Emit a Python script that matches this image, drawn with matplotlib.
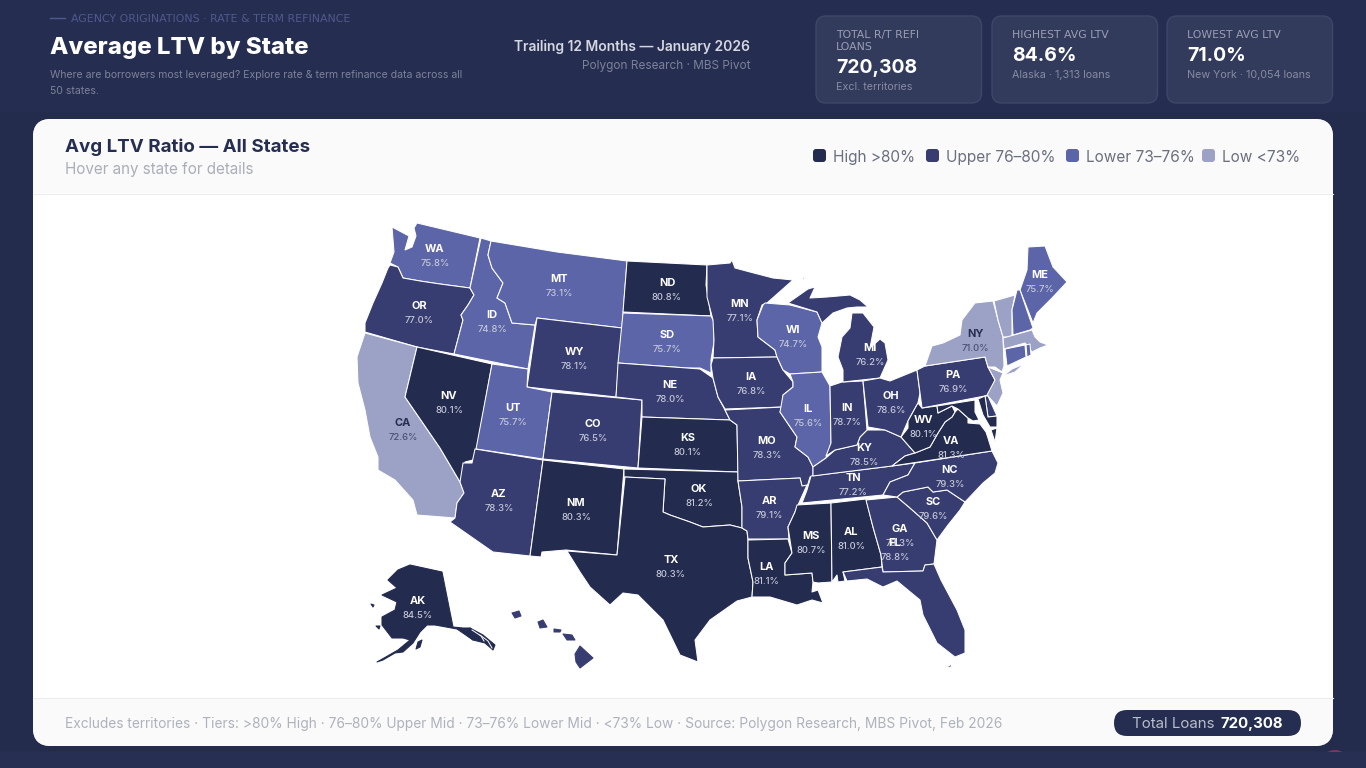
import matplotlib
matplotlib.use('Agg')
import matplotlib.pyplot as plt
from matplotlib.patches import FancyBboxPatch, Polygon, Rectangle, Circle

plt.rcParams['font.family'] = ['Inter', 'DejaVu Sans']

# values, states without a label are estimates from their tier
STATE_CODES = ['WA', 'OR', 'CA', 'NV', 'ID', 'MT', 'WY', 'UT', 'AZ', 'CO', 'NM', 'ND', 'SD', 'NE', 'KS', 'OK', 'TX',
               'MN', 'IA', 'MO', 'AR', 'LA', 'WI', 'IL', 'MS', 'AL', 'TN', 'KY', 'IN', 'MI', 'OH', 'GA', 'FL', 'SC',
               'NC', 'VA', 'WV', 'PA', 'NY', 'ME', 'AK', 'HI', 'VT', 'NH', 'MA', 'CT', 'RI', 'NJ', 'DE', 'MD']
LTV_VALUES = [75.8, 77.0, 72.6, 80.1, 74.8, 73.1, 78.1, 75.7, 78.3, 76.5, 80.3, 80.8, 75.7, 78.0, 80.1, 81.2, 80.3,
              77.1, 76.8, 78.3, 79.1, 81.1, 74.7, 75.6, 80.7, 81.0, 77.2, 78.5, 78.7, 76.2, 78.6, 78.3, 78.8, 79.6,
              79.3, 81.3, 80.1, 76.9, 71.0, 75.7, 84.5, 77.5, 72.0, 75.0, 72.5, 75.2, 74.9, 72.8, 78.0, 80.5]

TIER_LABELS = ['High >80%', 'Upper 76–80%', 'Lower 73–76%', 'Low <73%']
TIER_COLORS = ['#232b4e', '#373d70', '#5c65a8', '#9ca1c6']

STAT_LABELS = [['TOTAL R/T REFI', 'LOANS'], ['HIGHEST AVG LTV'], ['LOWEST AVG LTV']]
STAT_VALUES = ['720,308', '84.6%', '71.0%']
STAT_NOTES = ['Excl. territories', 'Alaska · 1,313 loans', 'New York · 10,054 loans']

# state outlines in map coordinates
STATE_SHAPES = {
  'WA': [[(417,223),(480,238),(470,288),(440,284),(420,281),(403,278),(398,267),(390,263),(394,252),(392,227),(409,236),(405,250),(412,247),(416,236),(414,228)]],
  'OR': [[(390,265),(398,267),(403,278),(420,281),(440,284),(470,288),(474,295),(468,305),(461,315),(463,320),(454,354),(417,347),(365,332),(365,323),(373,303),(382,283),(388,268)]],
  'CA': [[(365,333),(417,347),(405,397),(440,448),(460,482),(464,493),(457,503),(455,518),(417,515),(413,500),(395,480),(378,470),(378,457),(370,437),(365,410),(358,383),(357,357)]],
  'NV': [[(417,347),(492,364),(477,448),(473,460),(465,462),(462,477),(460,482),(440,448),(405,397)]],
  'ID': [[(481,238),(491,241),(488,255),(492,268),(503,283),(497,298),(505,303),(512,323),(535,325),(528,369),(454,354),(463,320),(461,315),(468,305),(474,295),(470,288)]],
  'MT': [[(491,241),(557,252),(627,261),(622,328),(537,318),(535,325),(512,323),(505,303),(497,298),(503,283),(492,268),(488,255)]],
  'WY': [[(537,318),(622,328),(616,397),(527,387)]],
  'UT': [[(492,364),(528,369),(527,387),(552,392),(543,459),(476,449)]],
  'AZ': [[(475,449),(543,460),(530,556),(493,552),(450,522),(455,518),(457,503),(464,493),(460,482),(463,463),(472,463)]],
  'CO': [[(552,392),(642,400),(638,468),(543,459)]],
  'NM': [[(543,460),(624,469),(617,555),(566,550),(542,552),(541,557),(530,556)]],
  'ND': [[(627,261),(707,265),(706,285),(711,316),(623,312)]],
  'SD': [[(623,313),(711,316),(714,322),(714,342),(711,360),(711,373),(700,368),(687,368),(618,363)]],
  'NE': [[(618,363),(687,368),(700,369),(713,378),(718,397),(725,410),(730,420),(642,417),(642,400),(616,397)]],
  'KS': [[(642,417),(730,420),(737,425),(738,472),(638,468)]],
  'OK': [[(624,469),(738,472),(738,481),(742,507),(742,528),(730,525),(703,527),(690,522),(670,515),(663,512),(665,479),(624,477)]],
  'TX': [[(625,477),(665,479),(663,512),(670,515),(690,522),(703,527),(730,525),(742,528),(747,531),(748,540),(748,558),(753,582),(752,597),(737,601),(710,620),(695,640),(698,662),(680,655),(663,620),(638,595),(623,593),(610,605),(590,587),(580,572),(567,551),(617,555)]],
  'MN': [[(707,265),(730,263),(732,260),(735,268),(750,272),(773,278),(793,280),(767,303),(762,305),(757,320),(758,337),(775,350),(777,357),(713,358),(714,340),(713,320),(707,297)]],
  'IA': [[(713,358),(777,357),(783,370),(793,382),(793,387),(783,395),(783,407),(725,409),(718,397),(713,378),(711,365)]],
  'MO': [[(725,410),(783,407),(780,412),(797,437),(795,447),(808,457),(813,467),(813,476),(810,477),(807,487),(802,486),(800,478),(738,481),(737,425),(730,420)]],
  'AR': [[(738,481),(800,478),(802,486),(807,485),(798,505),(795,512),(788,527),(789,539),(748,539),(747,531),(742,528),(742,507)]],
  'LA': [[(748,540),(788,539),(792,553),(785,563),(785,575),(812,573),(813,582),(812,592),(818,590),(823,603),(812,600),(797,605),(770,597),(752,597),(753,582),(748,558)]],
  'WI': [[(763,305),(765,303),(790,305),(817,312),(822,323),(818,337),(822,347),(822,372),(790,374),(783,370),(777,357),(775,350),(758,337),(757,320)]],
  'IL': [[(790,374),(822,372),(830,386),(831,443),(826,458),(813,467),(808,457),(795,447),(797,437),(780,412),(783,395),(793,387),(793,382)]],
  'MS': [[(797,505),(831,503),(832,582),(818,583),(813,582),(812,573),(785,575),(785,563),(792,553),(788,527),(795,512)]],
  'AL': [[(831,503),(866,499),(873,527),(881,555),(882,567),(843,572),(845,581),(838,582),(837,575),(832,582)]],
  'TN': [[(811,476),(892,466),(915,463),(908,475),(890,482),(883,495),(802,503),(807,490)]],
  'KY': [[(867,430),(885,430),(901,437),(915,453),(905,456),(892,466),(828,474),(813,476),(813,467),(826,458),(835,450),(857,445),(860,437)]],
  'IN': [[(830,386),(842,382),(863,381),(867,430),(860,437),(857,445),(835,450),(826,456),(831,443)]],
  'MI': [[(788,303),(808,289),(815,287),(810,298),(827,297),(850,295),(860,300),(868,307),(857,307),(847,308),(833,313),(822,323),(817,312)],
         [(843,382),(880,378),(888,360),(885,343),(880,339),(870,348),(874,327),(863,313),(852,313),(850,328),(842,337),(838,357),(843,370)],
         [(800,280),(806,276),(804,279)]],
  'OH': [[(863,381),(880,378),(890,381),(917,370),(920,393),(918,403),(908,421),(901,437),(885,430),(868,427)]],
  'GA': [[(866,500),(897,497),(910,508),(927,523),(937,540),(934,564),(925,565),(923,571),(883,572),(881,555),(873,527)]],
  'FL': [[(843,572),(882,567),(883,572),(923,571),(925,565),(934,564),(941,580),(957,610),(965,630),(965,653),(955,657),(937,643),(923,615),(920,600),(897,581),(883,587),(867,579),(847,581)],
         [(945,668),(952,664),(951,667)]],
  'SC': [[(897,497),(903,492),(928,487),(933,492),(947,490),(965,502),(960,510),(948,525),(937,540),(927,523),(910,508)]],
  'NC': [[(915,463),(992,451),(998,463),(995,473),(983,483),(965,502),(947,490),(933,492),(928,487),(903,492),(897,497),(883,495),(890,482),(908,475)]],
  'VA': [[(955,412),(958,409),(968,418),(968,423),(980,424),(986,432),(988,438),(992,451),(892,466),(905,456),(915,453),(930,447),(938,433),(945,422),(952,417)],
         [(991,430),(997,428),(995,442)]],
  'WV': [[(918,403),(922,408),(937,406),(938,413),(952,406),(955,412),(952,417),(945,422),(938,433),(930,447),(915,453),(901,437),(908,428),(908,421)]],
  'PA': [[(917,370),(925,366),(985,357),(988,367),(995,380),(990,395),(922,408)]],
  'NY': [[(925,366),(932,346),(943,343),(960,335),(962,320),(975,303),(993,301),(998,320),(1003,337),(1004,366),(1002,372),(995,367),(988,367),(985,357)],
         [(1003,376),(1012,369),(1024,364),(1015,372)]],
  'ME': [[(1028,247),(1045,246),(1053,267),(1067,282),(1052,298),(1037,313),(1033,323),(1020,290),(1027,270)]],
  'VT': [[(994,301),(1015,295),(1012,310),(1012,337),(1003,337),(998,320)]],
  'NH': [[(1017,290),(1020,290),(1033,328),(1030,330),(1013,335),(1012,310)]],
  'MA': [[(1003,338),(1032,330),(1035,337),(1040,342),(1048,345),(1040,348),(1032,352),(1025,343),(1004,349)]],
  'CT': [[(1005,349),(1025,345),(1026,357),(1007,366)]],
  'RI': [[(1026,345),(1030,344),(1031,355),(1027,357)]],
  'NJ': [[(988,367),(1003,373),(1000,380),(1003,393),(997,406),(987,395),(995,380)]],
  'DE': [[(985,396),(988,396),(997,416),(988,417)]],
  'MD': [[(937,406),(975,400),(975,412),(979,420),(973,421),(968,418),(958,409),(952,406),(938,413)],
         [(978,399),(985,396),(988,417),(997,416),(997,427),(990,427),(983,415)]],
  'AK': [[(410,565),(442,572),(453,627),(463,628),(470,628),(480,636),(473,640),(457,629),(435,625),(427,625),(420,632),(413,643),(403,652),(395,653),(383,660),(377,662),(398,650),(410,640),(403,638),(392,638),(382,625),(382,617),(395,610),(397,602),(382,595),(397,588),(388,580),(398,570)],
         [(418,642),(422,640),(420,647),(416,649)],
         [(376,626),(380,626),(379,629)],
         [(371,604),(374,605),(373,607)]],
}

# the Alaska panhandle and Hawaii keep their own thin islands
ISLAND_SHAPES = {
  'AK': [[(470,628),(483,635),(495,645),(493,650),(485,643),(473,640),(463,632)]],
  'HI': [[(512,613),(519,611),(521,616),(515,618)],[(538,622),(543,620),(547,627),(540,628)],[(554,629),(561,630),(560,632),(554,632)],[(563,634),(572,635),(575,640),(567,640)],[(575,654),(580,646),(593,658),(580,668),(576,662)]],
}
PANHANDLE_SLITS = [[(472,630),(481,636),(484,641)], [(480,635),(488,641),(492,648)]]

# where each state label sits, unlabeled states are left out
LABEL_POS = {
  'WA': (435,249), 'OR': (419,306), 'CA': (403,423), 'NV': (449,396), 'ID': (492,315), 'MT': (559,279), 'WY': (574,352),
  'UT': (513,408), 'CO': (593,424), 'ND': (667,283), 'SD': (667,335), 'NE': (670,385), 'KS': (688,438), 'OK': (699,489),
  'TX': (671,560), 'NM': (576,503), 'AZ': (499,494), 'MN': (740,304), 'IA': (751,377), 'MO': (767,441), 'AR': (769,501),
  'LA': (766,567), 'MS': (811,536), 'AL': (851,532), 'TN': (853,478), 'KY': (864,448), 'IL': (808,409), 'IN': (847,408),
  'WI': (793,330), 'MI': (870,348), 'OH': (891,396), 'PA': (953,375), 'NY': (975,334), 'ME': (1040,275), 'VA': (951,441),
  'WV': (924,420), 'NC': (950,470), 'SC': (933,502), 'GA': (900,529), 'FL': (895,543), 'AK': (418,601),
}

NAVY = '#252e50'
WIDE_FONT = ['DejaVu Sans']

def tierColor(value):
  if value > 80:
    return TIER_COLORS[0]
  if value >= 76:
    return TIER_COLORS[1]
  if value >= 73:
    return TIER_COLORS[2]
  return TIER_COLORS[3]

def roundBox(ax, x0, y0, x1, y1, r, fc, ec='none', lw=0, z=1):
  box = FancyBboxPatch((x0, y0), x1 - x0, y1 - y0, boxstyle='round,pad=0,rounding_size=%s' % r,
                       fc=fc, ec=ec, lw=lw, zorder=z)
  ax.add_patch(box)
  return box

def px(size):
  return size * 0.72

def label(ax, x, y, s, size, color, weight='normal', ha='left', family=None):
  t = ax.text(x, y, s, fontsize=px(size), color=color, fontweight=weight, ha=ha, va='center_baseline', zorder=6)
  if family:
    t.set_fontfamily(family)

def drawHeader(ax):
  ax.plot([50, 65], [18, 18], color='#50598f', lw=1.0, zorder=3)
  label(ax, 71, 18, 'AGENCY ORIGINATIONS · RATE & TERM REFINANCE', 11, '#50598f', family=WIDE_FONT)
  label(ax, 50, 45.5, 'Average LTV by State', 24, '#ffffff', 800)
  label(ax, 50, 74, 'Where are borrowers most leveraged? Explore rate & term refinance data across all', 10.5, '#7c8299')
  label(ax, 50, 90, '50 states.', 10.5, '#7c8299')
  label(ax, 750, 45.5, 'Trailing 12 Months — January 2026', 13.85, '#d5d8e2', 'semibold', 'right')
  label(ax, 750, 64.5, 'Polygon Research · MBS Pivot', 11.8, '#7c8299', ha='right')

  cardX = [816, 992, 1167]
  for i in range(3):
    x = cardX[i]
    roundBox(ax, x, 16, x + 165.5, 103, 10, '#333b5c', '#3f4768', 1)
    y = 34
    for line in STAT_LABELS[i]:
      label(ax, x + 20, y, line, 10.9, '#9a9fb3', family=WIDE_FONT)
      y += 12
    label(ax, x + 20, y + 8, STAT_VALUES[i], 19.4, '#ffffff', 'bold')
    label(ax, x + 20, y + 27.5, STAT_NOTES[i], 10.75, '#868ca3')

def drawCard(ax):
  ax.add_patch(Rectangle((0, 0), 1366, 751, fc='#242c4e', ec='none', zorder=0))
  ax.add_patch(Rectangle((0, 0), 1366, 112, fc=NAVY, ec='none', zorder=0.1))
  ax.add_patch(Circle((1335, 764), 14, fc='#8c2f5c', ec='none', zorder=0.5))
  ax.add_patch(Rectangle((0, 752), 1366, 16, fc='#272f52', ec='none', zorder=0.6))
  card = roundBox(ax, 33, 119, 1333, 746, 18, '#ffffff', z=2)
  for y0, y1 in [(119, 193), (698, 746)]:
    band = Rectangle((33, y0), 1300, y1 - y0, fc='#fafafa', ec='none', zorder=2.1)
    ax.add_patch(band)
    band.set_clip_path(card)
  ax.plot([33, 1333], [193.5, 193.5], color='#ececee', lw=0.8, zorder=2.2)
  ax.plot([33, 1333], [698, 698], color='#ececee', lw=0.8, zorder=2.2)

  label(ax, 65, 145.5, 'Avg LTV Ratio — All States', 18.75, NAVY, 'bold')
  label(ax, 65, 168, 'Hover any state for details', 15.2, '#aaaeb8')

  swatchX = [813, 926, 1066, 1202]
  for i in range(4):
    roundBox(ax, swatchX[i], 149, swatchX[i] + 13, 162, 3, TIER_COLORS[i], z=3)
    label(ax, swatchX[i] + 20, 156, TIER_LABELS[i], 15.4, '#6b7080')

  label(ax, 65, 722.5, 'Excludes territories · Tiers: >80% High · 76–80% Upper Mid · 73–76% Lower Mid · <73% Low · Source: Polygon Research, MBS Pivot, Feb 2026', 13.77, '#aeb2bc')
  roundBox(ax, 1114, 710, 1301, 736, 13, NAVY, z=3)
  label(ax, 1132, 722.5, 'Total Loans', 15, '#b9bdcc')
  label(ax, 1283, 722.5, '720,308', 15, '#ffffff', 'bold', 'right')

def drawMap(ax):
  for code, value in zip(STATE_CODES, LTV_VALUES):
    color = tierColor(value)
    edge = color if code == 'AK' else '#ffffff'
    for shape in STATE_SHAPES.get(code, []):
      ax.add_patch(Polygon(shape, closed=True, fc=color, ec=edge, lw=0.75, joinstyle='round', zorder=4))
    for shape in ISLAND_SHAPES.get(code, []):
      ax.add_patch(Polygon(shape, closed=True, fc=color, ec=color, lw=0.75, joinstyle='round', zorder=4))
    if code in LABEL_POS:
      x, y = LABEL_POS[code]
      if value < 73:
        label(ax, x, y - 0.7, code, 11, NAVY, 'bold', 'center')
        label(ax, x, y + 13.3, '%.1f%%' % value, 9.5, '#4a5175', 'medium', 'center')
      else:
        label(ax, x, y - 0.7, code, 11, '#ffffff', 'bold', 'center')
        label(ax, x, y + 13.3, '%.1f%%' % value, 9.5, '#c4c7d8', 'medium', 'center')
  for slit in PANHANDLE_SLITS:
    ax.plot([p[0] for p in slit], [p[1] for p in slit], color='#ffffff', lw=0.7, zorder=4.5)

def main():
  fig = plt.figure(figsize=(13.66, 7.68), dpi=100, facecolor=NAVY)
  ax = fig.add_axes([0, 0, 1, 1])
  ax.set_xlim(0, 1366)
  ax.set_ylim(768, 0)
  ax.axis('off')
  drawHeader(ax)
  drawCard(ax)
  drawMap(ax)
  fig.savefig('out.png', dpi=100, facecolor=NAVY)

if __name__ == "__main__":
  main()
